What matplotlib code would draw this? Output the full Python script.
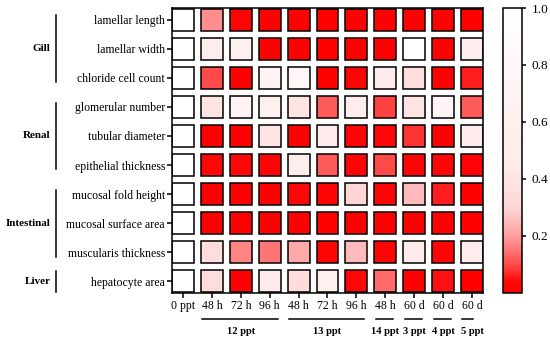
import matplotlib
matplotlib.use("Agg")
import matplotlib.pyplot as plt
import matplotlib.transforms as mtransforms
from matplotlib.colors import LinearSegmentedColormap, Normalize
from matplotlib.patches import Rectangle

plt.rcParams['font.family'] = ['Liberation Serif', 'DejaVu Serif']

# row labels (top to bottom) and organ groups
rows = ['lamellar length', 'lamellar width', 'chloride cell count',
        'glomerular number', 'tubular diameter', 'epithelial thickness',
        'mucosal fold height', 'mucosal surface area', 'muscularis thickness',
        'hepatocyte area']
organs = ['Gill', 'Renal', 'Intestinal', 'Liver']
organ_rows = [(0, 2), (3, 5), (6, 8), (9, 9)]

# column labels and salinity groups
cols = ['0 ppt', '48 h', '72 h', '96 h', '48 h', '72 h', '96 h',
        '48 h', '60 d', '60 d', '60 d']
groups = ['12 ppt', '13 ppt', '14 ppt', '3 ppt', '4 ppt', '5 ppt']
group_cols = [(1, 3), (4, 6), (7, 7), (8, 8), (9, 9), (10, 10)]

# values
vals = [
    [1, 0.18, 0.02, 0.01, 0.01, 0.01, 0.01, 0.01, 0.01, 0.01, 0.01],
    [1, 0.50, 0.60, 0.01, 0.01, 0.01, 0.01, 0.01, 1.00, 0.01, 0.50],
    [1, 0.10, 0.01, 0.70, 0.80, 0.01, 0.02, 0.45, 0.35, 0.01, 0.06],
    [1, 0.40, 0.70, 0.60, 0.40, 0.12, 0.50, 0.09, 0.40, 0.75, 0.12],
    [1, 0.01, 0.01, 0.40, 0.01, 0.45, 0.02, 0.03, 0.08, 0.01, 0.45],
    [1, 0.04, 0.04, 0.02, 0.50, 0.12, 0.02, 0.10, 0.02, 0.03, 0.02],
    [1, 0.01, 0.01, 0.01, 0.04, 0.02, 0.30, 0.02, 0.25, 0.06, 0.01],
    [1, 0.01, 0.01, 0.01, 0.01, 0.01, 0.01, 0.01, 0.01, 0.01, 0.01],
    [1, 0.35, 0.17, 0.15, 0.22, 0.02, 0.25, 0.02, 0.45, 0.02, 0.50],
    [1, 0.35, 0.01, 0.45, 0.35, 0.60, 0.04, 0.14, 0.01, 0.05, 0.01],
]

cmap = LinearSegmentedColormap.from_list('pval', [
    (0.0, (1, 0, 0)), (0.04, (1, 0.03, 0.03)), (0.1, (1, 0.3, 0.3)),
    (0.2, (1, 0.62, 0.62)), (0.3, (1, 0.84, 0.84)), (0.45, (1, 0.92, 0.92)),
    (0.75, (1, 0.96, 0.96)), (1.0, (1, 1, 1))])
norm = Normalize(0, 1)

fig = plt.figure(figsize=(5.5, 3.39), dpi=100)
ax = fig.add_axes([0.3127, 0.1357, 0.5655, 0.8407])

sz = 0.76
for i, row in enumerate(vals):
    for j, v in enumerate(row):
        ax.add_patch(Rectangle((j - sz / 2, i - sz / 2), sz, sz,
                               facecolor=cmap(norm(v)), edgecolor='black', lw=1.1))

ax.set_xlim(-0.38, len(cols) - 1 + 0.38)
ax.set_ylim(len(rows) - 1 + 0.4, -0.4)
for s in ax.spines.values():
    s.set_linewidth(1.1)
ax.set_xticks(range(len(cols)))
ax.set_xticklabels(cols, fontsize=8.5)
ax.set_yticks(range(len(rows)))
ax.set_yticklabels(rows, fontsize=8.5)
ax.tick_params(width=1.1, length=3.5, pad=1.5)

# organ brackets on the left
ty = mtransforms.blended_transform_factory(ax.transAxes, ax.transData)
for name, (a, b) in zip(organs, organ_rows):
    lo, hi = (a - 0.15, b + 0.15) if a != b else (a - 0.35, b + 0.35)
    ax.plot([-0.373, -0.373], [lo, hi], color='black', lw=1.1,
            transform=ty, clip_on=False)
    ax.text(-0.39, (a + b) / 2, name, transform=ty, ha='right', va='center',
            fontsize=8, fontweight='bold')

# salinity brackets at the bottom
tx = mtransforms.blended_transform_factory(ax.transData, ax.transAxes)
for name, (a, b) in zip(groups, group_cols):
    lo, hi = a - 0.33, min(b + 0.28, 10.05)
    ax.plot([lo, hi], [-0.091, -0.091], color='black', lw=1.1,
            transform=tx, clip_on=False)
    ax.text((a + b) / 2, -0.135, name, transform=tx, ha='center', va='center',
            fontsize=7.6, fontweight='bold')

# colour bar
cax = fig.add_axes([0.9145, 0.1357, 0.0345, 0.8407])
sm = plt.cm.ScalarMappable(norm=norm, cmap=cmap)
cb = fig.colorbar(sm, cax=cax)
cb.set_ticks([0.2, 0.4, 0.6, 0.8, 1.0])
cb.ax.tick_params(labelsize=9.5, width=1.1, length=3, pad=4)
cb.outline.set_linewidth(1.1)

fig.savefig('out.png', dpi=100)
